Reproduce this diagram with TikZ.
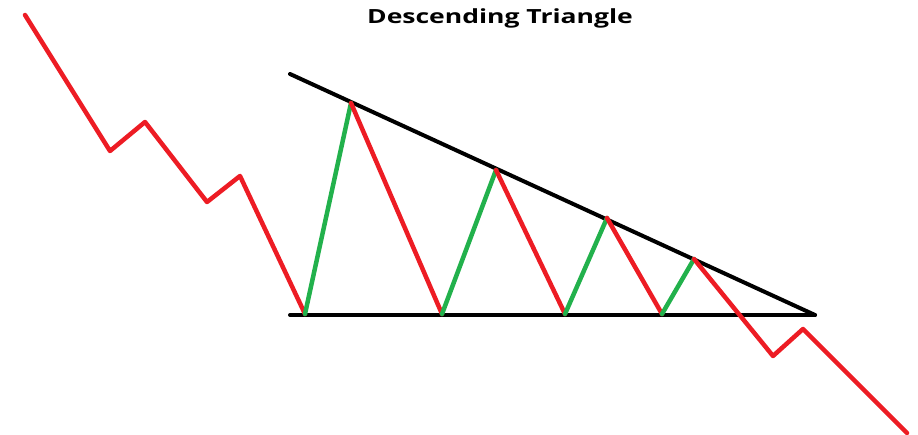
\documentclass[tikz,border=0pt]{standalone}
\usepackage{fontspec}
\setmainfont{Carlito}
\newfontfamily\titlefont{Open Sans}
\definecolor{pred}{RGB}{237,28,36}
\definecolor{pgreen}{RGB}{34,177,76}
\tikzset{
  redline/.style={draw=pred, line width=4.5pt, line join=round, line cap=round},
  greenline/.style={draw=pgreen, line width=4.5pt, line join=round, line cap=round},
  blackline/.style={draw=black, line width=4pt, line cap=round},
  titletext/.style={font=\titlefont\bfseries\fontsize{19.5}{23}\selectfont, inner sep=0pt, anchor=base, xscale=1.36}
}
\begin{document}
\begin{tikzpicture}[x=1pt,y=-1pt]
\useasboundingbox (0,0) rectangle (918,435);
\node[titletext] (title) at (500,24) {Descending Triangle};
% key points
\coordinate (s0) at (25,15);
\coordinate (s1) at (110,151);
\coordinate (s2) at (145,122);
\coordinate (s3) at (207,202);
\coordinate (s4) at (240,176);
\coordinate (b1) at (305,314);
\coordinate (p1) at (351,103);
\coordinate (b2) at (442,314);
\coordinate (p2) at (496,170);
\coordinate (b3) at (565,314);
\coordinate (p3) at (607,218);
\coordinate (b4) at (662,314);
\coordinate (p4) at (694,259);
\coordinate (e1) at (773,356);
\coordinate (e2) at (803,329);
\coordinate (e3) at (907,433);
\coordinate (tl) at (290,74);
\coordinate (bl) at (290,315);
\coordinate (apex) at (815,315);
% trend lines
\draw[blackline] (tl) -- (apex);
\draw[blackline] (bl) -- (apex);
% price
\draw[redline] (s0) -- (s1) -- (s2) -- (s3) -- (s4) -- (b1);
\draw[greenline] (b1) -- (p1);
\draw[redline] (p1) -- (b2);
\draw[greenline] (b2) -- (p2);
\draw[redline] (p2) -- (b3);
\draw[greenline] (b3) -- (p3);
\draw[redline] (p3) -- (b4);
\draw[greenline] (b4) -- (p4);
\draw[redline] (p4) -- (e1) -- (e2) -- (e3);
\end{tikzpicture}
\end{document}
